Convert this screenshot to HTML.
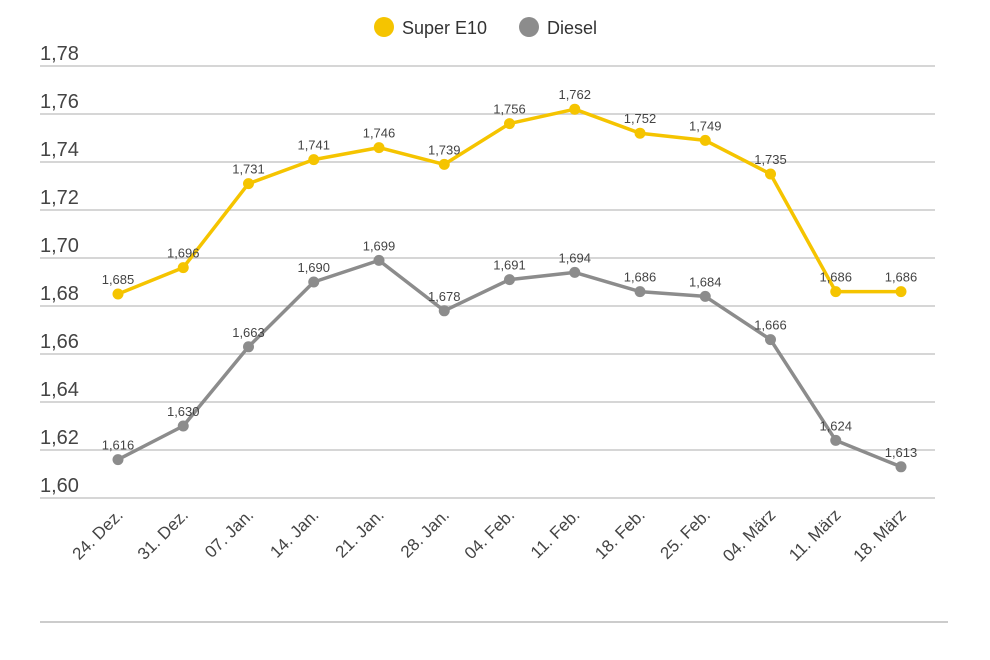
<!DOCTYPE html>
<html><head><meta charset="utf-8"><style>
body{margin:0;background:#fff;}
svg{display:block;font-family:"Liberation Sans",sans-serif;}
</style></head><body>
<svg id="chart" width="990" height="660">
<g id="legend">
<circle cx="384" cy="27" r="10" fill="#f5c400"/>
<text x="402" y="34" font-size="18" fill="#333">Super E10</text>
<circle cx="529" cy="27" r="10" fill="#8c8c8c"/>
<text x="547" y="34" font-size="18" fill="#333">Diesel</text>
</g>
<line x1="40" y1="622" x2="948" y2="622" stroke="#ccc" stroke-width="2"/>
</svg>
<script>
const categories=["24. Dez.","31. Dez.","07. Jan.","14. Jan.","21. Jan.","28. Jan.","04. Feb.","11. Feb.","18. Feb.","25. Feb.","04. März","11. März","18. März"];
const superE10=[1.685,1.696,1.731,1.741,1.746,1.739,1.756,1.762,1.752,1.749,1.735,1.686,1.686];
const diesel=[1.616,1.630,1.663,1.690,1.699,1.678,1.691,1.694,1.686,1.684,1.666,1.624,1.613];
const yTicks=[1.60,1.62,1.64,1.66,1.68,1.70,1.72,1.74,1.76,1.78];
const svg=document.getElementById('chart');
const NS='http://www.w3.org/2000/svg';
const yMin=1.60,yMax=1.78,yTop=66,yBot=498;
function y(v){return yBot-(v-yMin)/(yMax-yMin)*(yBot-yTop);}
function x(i){return 118+i*65.25;}
function mk(t,a){const e=document.createElementNS(NS,t);for(const k in a)e.setAttribute(k,a[k]);svg.appendChild(e);return e;}
yTicks.forEach(t=>{
 const l=mk('line',{x1:40,x2:935,y1:y(t),y2:y(t),stroke:'#c8c8c8','stroke-width':1.5});
 
 
 const tx=mk('text',{x:40,y:y(t)-6,'font-size':20,fill:'#444'});
 tx.textContent=t.toFixed(2).replace('.',',');
 
 
});
categories.forEach((c,i)=>{
 const px=x(i)+6,py=516;
 const t=mk('text',{x:px,y:py,'font-size':17,fill:'#444','text-anchor':'end',transform:`rotate(-45 ${px} ${py})`});
 t.textContent=c;
 
 
});
function series(vals,color,name){
 const p=mk('polyline',{points:vals.map((v,i)=>x(i)+','+y(v)).join(' '),fill:'none',stroke:color,'stroke-width':3.5,'stroke-linejoin':'round'});
 
 
 vals.forEach((v,i)=>{
  const c=mk('circle',{cx:x(i),cy:y(v),r:5.5,fill:color});
  
  
  const t=mk('text',{x:x(i),y:y(v)-10,'font-size':13,fill:'#444','text-anchor':'middle'});
  t.textContent=v.toFixed(3).replace('.',',');
  
  
 });
}
series(superE10,'#f5c400','super-e10');
series(diesel,'#8c8c8c','diesel');
</script>
</body></html>
